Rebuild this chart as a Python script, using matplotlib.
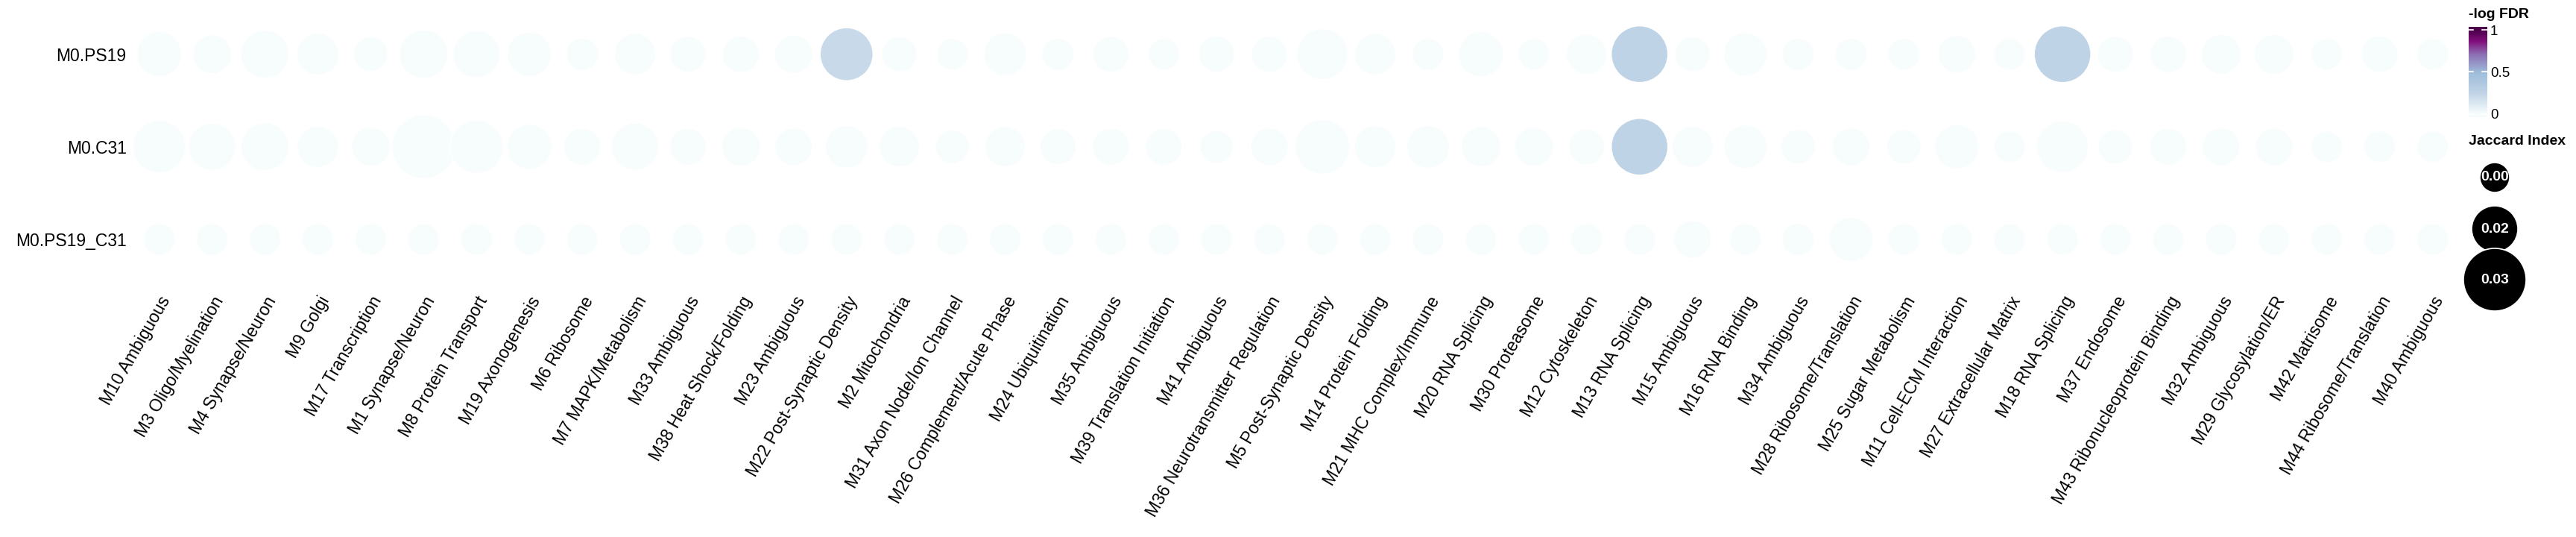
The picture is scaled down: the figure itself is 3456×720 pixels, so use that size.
import numpy as np
import matplotlib.pyplot as plt
from matplotlib.colors import LinearSegmentedColormap

plt.rcParams['font.family'] = ['Liberation Sans', 'DejaVu Sans']

# module columns, in plotting order
modules = [
    'M10 Ambiguous', 'M3 Oligo/Myelination', 'M4 Synapse/Neuron', 'M9 Golgi',
    'M17 Transcription', 'M1 Synapse/Neuron', 'M8 Protein Transport',
    'M19 Axonogenesis', 'M6 Ribosome', 'M7 MAPK/Metabolism', 'M33 Ambiguous',
    'M38 Heat Shock/Folding', 'M23 Ambiguous', 'M22 Post-Synaptic Density',
    'M2 Mitochondria', 'M31 Axon Node/Ion Channel', 'M26 Complement/Acute Phase',
    'M24 Ubiquitination', 'M35 Ambiguous', 'M39 Translation Initiation',
    'M41 Ambiguous', 'M36 Neurotransmitter Regulation', 'M5 Post-Synaptic Density',
    'M14 Protein Folding', 'M21 MHC Complex/Immune', 'M20 RNA Splicing',
    'M30 Proteasome', 'M12 Cytoskeleton', 'M13 RNA Splicing', 'M15 Ambiguous',
    'M16 RNA Binding', 'M34 Ambiguous', 'M28 Ribosome/Translation',
    'M25 Sugar Metabolism', 'M11 Cell-ECM Interaction', 'M27 Extracellular Matrix',
    'M18 RNA Splicing', 'M37 Endosome', 'M43 Ribonucleoprotein Binding',
    'M32 Ambiguous', 'M29 Glycosylation/ER', 'M42 Matrisome',
    'M44 Ribosome/Translation', 'M40 Ambiguous',
]
groups = ['M0.PS19', 'M0.C31', 'M0.PS19_C31']

# Jaccard index per module
jaccard_ps19 = [
    0.0149, 0.0105, 0.0171, 0.0127, 0.0073, 0.0176, 0.0165, 0.0144, 0.0056, 0.0122, 0.0084,
    0.0089, 0.0100, 0.0209, 0.0078, 0.0051, 0.0133, 0.0056, 0.0084, 0.0051, 0.0084, 0.0084,
    0.0193, 0.0122, 0.0051, 0.0149, 0.0051, 0.0116, 0.0236, 0.0078, 0.0138, 0.0056, 0.0056,
    0.0051, 0.0095, 0.0051, 0.0236, 0.0084, 0.0089, 0.0111, 0.0111, 0.0051, 0.0089, 0.0051,
]
jaccard_c31 = [
    0.0204, 0.0165, 0.0171, 0.0122, 0.0105, 0.0285, 0.0209, 0.0149, 0.0089, 0.0165, 0.0089,
    0.0105, 0.0095, 0.0133, 0.0116, 0.0067, 0.0116, 0.0084, 0.0089, 0.0089, 0.0062, 0.0095,
    0.0220, 0.0127, 0.0133, 0.0111, 0.0105, 0.0084, 0.0236, 0.0122, 0.0138, 0.0073, 0.0095,
    0.0073, 0.0144, 0.0051, 0.0198, 0.0073, 0.0089, 0.0095, 0.0095, 0.0051, 0.0051, 0.0051,
]
jaccard_both = [
    0.0051, 0.0051, 0.0051, 0.0051, 0.0051, 0.0051, 0.0051, 0.0051, 0.0051, 0.0051, 0.0051,
    0.0051, 0.0051, 0.0051, 0.0051, 0.0051, 0.0051, 0.0051, 0.0051, 0.0051, 0.0051, 0.0051,
    0.0051, 0.0051, 0.0051, 0.0051, 0.0051, 0.0051, 0.0051, 0.0095, 0.0051, 0.0056, 0.0144,
    0.0051, 0.0051, 0.0051, 0.0051, 0.0051, 0.0051, 0.0051, 0.0051, 0.0051, 0.0051, 0.0051,
]

# -log FDR per module
logfdr_ps19 = [
    0, 0, 0, 0, 0, 0, 0, 0, 0, 0, 0, 0, 0, 0.21, 0, 0, 0, 0, 0, 0, 0, 0,
    0, 0, 0, 0, 0, 0, 0.25, 0, 0, 0, 0, 0, 0, 0, 0.25, 0, 0, 0, 0, 0, 0, 0,
]
logfdr_c31 = [
    0, 0, 0, 0, 0, 0, 0, 0, 0, 0, 0, 0, 0, 0, 0, 0, 0, 0, 0, 0, 0, 0,
    0, 0, 0, 0, 0, 0, 0.25, 0, 0, 0, 0, 0, 0, 0, 0, 0, 0, 0, 0, 0, 0, 0,
]
logfdr_both = [0] * 44

size_breaks = [0.004, 0.016, 0.028]
fdr_ticks = [0, 0.5, 1]

cmap = LinearSegmentedColormap.from_list('bupu', [
    (0.0, '#F7FCFD'), (0.25, '#BFD3E6'), (0.5, '#9EBCDA'),
    (0.72, '#8C6BB1'), (0.87, '#810F7C'), (1.0, '#4D004B')])

DPI = 100
W, H = 3456, 720


def marker_area(j):
    d_px = 32.7 + 1833 * np.asarray(j)
    return (d_px * 72 / DPI) ** 2


fig = plt.figure(figsize=(W / DPI, H / DPI), dpi=DPI)


def px_axes(x0, y0, x1, y1):
    return fig.add_axes([x0 / W, 1 - y1 / H, (x1 - x0) / W, (y1 - y0) / H])


ax = px_axes(171.1, -1.8, 3306.2, 395.4)
xs = np.arange(len(modules))
rows = [(jaccard_ps19, logfdr_ps19), (jaccard_c31, logfdr_c31), (jaccard_both, logfdr_both)]
for r, (jac, fdr) in enumerate(rows):
    ax.scatter(xs, np.full(len(xs), r), s=marker_area(jac), c=fdr, cmap=cmap,
               vmin=0, vmax=1, edgecolors='white', linewidths=1, zorder=3)

ax.set_xlim(-0.6, len(modules) - 0.4)
ax.set_ylim(2.6, -0.6)
ax.set_xticks(xs)
ax.set_xticklabels(modules, rotation=60, ha='right', va='top',
                   rotation_mode='anchor', fontsize=16.5)
ax.set_yticks(range(len(groups)))
ax.set_yticklabels(groups, fontsize=16.5)
ax.tick_params(axis='both', length=0)
ax.tick_params(axis='y', pad=1)
ax.tick_params(axis='x', pad=-1.5)
for sp in ax.spines.values():
    sp.set_visible(False)

# colour bar
cax = px_axes(3311.7, 36, 3336.7, 157)
grad = np.clip(np.linspace(-0.04, 1.04, 300), 0, 1)[:, None]
cax.imshow(grad, cmap=cmap, vmin=0, vmax=1, aspect='auto', origin='lower',
           extent=(0, 1, -0.04, 1.04))
cax.set_xlim(0, 1)
cax.set_ylim(-0.04, 1.04)
for t in fdr_ticks:
    cax.plot([0, 0.25], [t, t], color='white', lw=1.2)
    cax.plot([0.75, 1], [t, t], color='white', lw=1.2)
cax.set_xticks([])
cax.yaxis.tick_right()
cax.set_yticks(fdr_ticks)
cax.set_yticklabels(['0', '0.5', '1'], fontsize=13.5)
cax.tick_params(axis='y', length=0, pad=3)
for sp in cax.spines.values():
    sp.set_visible(False)

# overlay for legend titles and size key
lg = fig.add_axes([0, 0, 1, 1])
lg.set_xlim(0, W)
lg.set_ylim(H, 0)
lg.axis('off')
lg.text(3311.7, 20, '-log FDR', fontsize=14, fontweight='bold', ha='left', va='center')
lg.text(3311.7, 189, 'Jaccard Index', fontsize=14, fontweight='bold', ha='left', va='center')
key_y = [238, 307, 375]
lg.scatter([3347] * 3, key_y, s=marker_area(size_breaks), color='black',
           edgecolors='white', linewidths=1.2, zorder=3)
for b, y in zip(size_breaks, key_y):
    lg.text(3347, y, f'{b:.2f}', color='white', fontsize=14, fontweight='bold',
            ha='center', va='center', zorder=4)

fig.savefig('out.png', dpi=DPI)
